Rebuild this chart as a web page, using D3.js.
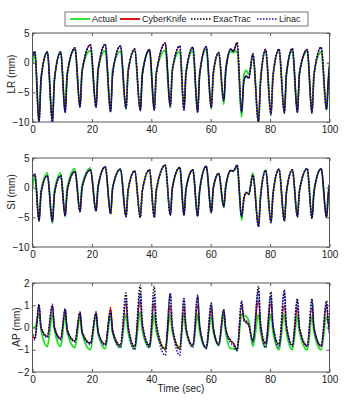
<!DOCTYPE html>
<html><head><meta charset="utf-8">
<script src="https://cdn.jsdelivr.net/npm/d3@7/dist/d3.min.js"></script>
<style>
body{margin:0;background:#fff;}
text{font-family:"Liberation Sans",Arial,sans-serif;fill:#222;}
</style></head>
<body><svg id="c" width="347" height="402"></svg>
<script>
// Shared time base (sec): peak, trough, knee per breathing cycle
const time = [0, 0.8, 2.2, 2.9,
 5.0, 6.7, 7.4,   9.5, 11.0, 11.7,   14.3, 16.0, 16.7,   19.5, 21.4, 22.1,
 24.5, 26.3, 27.0,   29.6, 31.5, 32.2,   34.4, 36.3, 37.0,   39.4, 41.0, 41.7,
 44.7, 46.4, 47.1,   49.6, 51.0, 51.7,   54.0, 55.6, 56.3,   58.5, 60.2, 60.9,
 62.7, 64.4, 65.1,   66.8, 67.6,   68.9, 70.4, 71.2, 72.0, 72.8,
 74.2, 76.1, 76.8,   78.5, 80.3, 81.0,   83.0, 84.8, 85.5,   87.5, 89.2, 89.9,
 92.5, 94.1, 94.8,   97.2, 99.0, 99.6,   100];

// LR (mm)
const lrActual = [-0.3, 1.6, -10, -2.6,
 1.8, -10, -2.8,   1.8, -8.4, -1.8,   2.2, -7.5, -1.2,   2.0, -7.4, -0.9,
 2.0, -8.3, -1.2,   1.9, -7.9, -1.2,   2.0, -8.1, -1.6,   2.0, -7.9, -1.5,
 2.1, -7.6, -1.0,   1.9, -7.9, -1.4,   2.0, -8.2, -1.6,   2.2, -7.8, -1.5,
 1.6, -7.0, -1.0,   1.9, 1.7,   2.0, -9.2, -2.0, -1.3, -2.0,
 1.2, -10, -3.0,   2.0, -8.8, -2.0,   2.0, -8.5, -1.8,   2.0, -8.3, -1.6,
 1.9, -8.5, -1.8,   1.8, -8.0, -3.0,   0.0];
const lrCyberKnife = [1.0, 1.8, -10, -2.6,
 1.8, -10, -2.8,   1.8, -8.4, -2.0,   2.5, -7.5, -1.5,   3.0, -7.5, -1.3,
 3.1, -8.3, -1.8,   2.8, -7.6, -1.6,   2.3, -8.1, -2.0,   2.2, -7.9, -1.9,
 3.3, -7.4, -1.3,   2.8, -8.0, -1.8,   2.6, -8.4, -2.0,   2.7, -7.6, -1.8,
 1.7, -6.4, -1.2,   2.3, 1.9,   3.4, -8.3, -3.0, -2.2, -2.6,
 1.5, -10, -3.0,   2.2, -8.7, -2.2,   2.3, -8.5, -2.0,   2.4, -8.4, -1.8,
 2.2, -8.5, -2.0,   2.6, -7.8, -3.0,   -0.5];
const lrExacTrac = [1.1, 1.9, -10, -2.6,
 1.8, -10, -2.8,   1.8, -8.3, -2.0,   2.5, -7.4, -1.5,   3.0, -7.5, -1.3,
 3.1, -8.2, -1.8,   2.8, -7.6, -1.6,   2.3, -8.0, -2.0,   2.2, -7.9, -1.9,
 3.3, -7.3, -1.3,   2.8, -7.9, -1.8,   2.6, -8.3, -2.0,   2.7, -7.5, -1.8,
 1.7, -6.3, -1.2,   2.3, 1.9,   3.4, -8.2, -3.0, -2.3, -2.6,
 1.5, -10, -3.0,   2.2, -8.6, -2.2,   2.3, -8.4, -2.0,   2.4, -8.3, -1.8,
 2.2, -8.4, -2.0,   2.6, -7.8, -3.0,   -0.5];
const lrLinac = [1.0, 1.8, -10, -2.7,
 1.8, -10, -2.8,   1.8, -8.4, -2.0,   2.4, -7.5, -1.5,   3.0, -7.5, -1.3,
 3.0, -8.3, -1.8,   2.8, -7.7, -1.6,   2.3, -8.1, -2.0,   2.2, -8.0, -1.9,
 3.2, -7.4, -1.3,   2.8, -8.0, -1.8,   2.6, -8.4, -2.0,   2.7, -7.6, -1.8,
 1.7, -6.4, -1.2,   2.3, 1.9,   3.3, -8.3, -3.0, -2.2, -2.7,
 1.5, -10, -3.0,   2.2, -8.8, -2.2,   2.3, -8.5, -2.0,   2.4, -8.4, -1.8,
 2.2, -8.5, -2.0,   2.6, -7.9, -3.0,   -0.6];

// SI (mm)
const siActual = [0.0, 2.0, -5.6, -0.6,
 2.5, -6.0, -0.6,   2.5, -4.9, 0.0,   3.2, -4.1, 0.4,   3.3, -4.0, 0.3,
 3.5, -4.4, 0.0,   3.1, -4.9, -0.4,   2.8, -5.0, -0.5,   3.0, -5.0, -0.4,
 3.7, -4.6, 0.0,   3.4, -4.6, -0.2,   3.0, -4.8, -0.4,   3.6, -4.2, 0.0,
 2.4, -3.3, 0.3,   2.9, 2.8,   3.6, -5.5, -1.7, -0.8, -1.1,
 2.5, -6.5, -1.4,   3.0, -5.8, -1.0,   3.1, -5.6, -0.8,   3.0, -4.9, -0.5,
 3.2, -5.1, -0.6,   3.1, -5.0, -1.0,   0.5];
const siCyberKnife = [1.8, 2.3, -5.6, -0.8,
 2.0, -5.7, -1.0,   2.0, -4.7, -0.5,   2.7, -4.0, 0.0,   3.0, -3.9, 0.2,
 3.5, -4.4, 0.0,   3.1, -4.9, -0.4,   2.8, -5.0, -0.5,   3.0, -5.0, -0.4,
 3.8, -4.6, 0.0,   3.4, -4.6, -0.2,   3.0, -4.8, -0.4,   3.6, -4.2, 0.0,
 2.4, -3.2, 0.3,   2.9, 2.8,   3.8, -4.9, -1.8, -0.8, -1.1,
 2.1, -6.6, -1.5,   2.9, -5.8, -1.0,   3.1, -5.6, -0.8,   3.0, -4.9, -0.5,
 3.2, -5.1, -0.6,   3.2, -5.0, -1.0,   0.5];
const siExacTrac = [1.9, 2.3, -5.5, -0.8,
 2.0, -5.7, -1.0,   2.0, -4.7, -0.5,   2.7, -4.0, 0.0,   3.0, -3.9, 0.2,
 3.5, -4.4, 0.0,   3.1, -4.8, -0.4,   2.8, -5.0, -0.5,   3.0, -5.0, -0.4,
 3.8, -4.7, 0.0,   3.4, -4.6, -0.2,   3.0, -4.8, -0.4,   3.6, -4.2, 0.0,
 2.4, -3.2, 0.3,   2.9, 2.8,   3.8, -4.8, -1.8, -0.8, -1.1,
 2.1, -6.5, -1.5,   2.9, -5.9, -1.0,   3.1, -5.6, -0.8,   3.0, -4.9, -0.5,
 3.2, -5.2, -0.6,   3.2, -5.0, -1.0,   0.5];
const siLinac = [1.8, 2.2, -5.6, -0.9,
 2.0, -5.7, -1.0,   2.0, -4.7, -0.5,   2.7, -4.0, 0.0,   3.0, -3.9, 0.2,
 3.5, -4.4, 0.0,   3.1, -4.9, -0.4,   2.8, -5.0, -0.5,   3.0, -5.0, -0.4,
 3.8, -4.6, 0.0,   3.4, -4.6, -0.2,   3.0, -4.8, -0.4,   3.6, -4.2, 0.0,
 2.4, -3.2, 0.3,   2.9, 2.8,   3.8, -4.9, -1.8, -0.9, -1.1,
 2.1, -6.6, -1.5,   2.9, -5.8, -1.0,   3.1, -5.6, -0.8,   3.0, -4.9, -0.5,
 3.2, -5.1, -0.6,   3.2, -5.0, -1.0,   0.5];

// AP (mm)
const apActual = [0.0, 0.0, 0.6, -0.1,
 -0.85, 0.6, -0.1,   -0.85, 0.6, -0.2,   -0.9, 0.5, -0.25,   -1.0, 0.55, -0.25,
 -0.95, 0.55, -0.25,   -0.9, 0.6, -0.2,   -0.95, 0.7, -0.15,   -0.9, 0.6, -0.2,
 -0.95, 0.6, -0.2,   -0.9, 0.6, -0.2,   -0.85, 0.6, -0.2,   -0.9, 0.5, -0.2,
 -0.8, 0.6, -0.2,   -0.95, -0.95,   -1.0, 0.6, 0.55, 0.5, 0.3,
 -0.85, 0.6, -0.2,   -0.9, 0.6, -0.2,   -1.0, 0.6, -0.2,   -1.0, 0.55, -0.2,
 -1.0, 0.5, -0.2,   -1.0, 0.5, 0.2,   0.3];
const apCyberKnife = [-0.35, -0.5, 1.0, 0.0,
 -0.4, 1.0, 0.0,   -0.5, 0.8, -0.1,   -0.6, 0.7, -0.2,   -0.7, 0.65, -0.2,
 -0.75, 0.92, -0.1,   -0.8, 1.1, 0.0,   -0.85, 1.2, 0.05,   -0.8, 1.1, 0.05,
 -0.95, 1.0, -0.05,   -0.95, 1.0, -0.05,   -0.8, 1.0, 0.0,   -0.95, 0.8, -0.05,
 -0.75, 0.8, -0.1,   -0.6, -0.7,   -1.0, 1.0, 0.35, 0.25, 0.1,
 -0.6, 1.2, 0.05,   -0.75, 1.1, 0.0,   -0.8, 1.0, 0.0,   -0.8, 0.9, -0.05,
 -0.85, 0.9, -0.05,   -0.85, 1.0, 0.2,   -0.2];
const apExacTrac = [-0.3, -0.45, 1.05, 0.0,
 -0.4, 1.05, 0.0,   -0.5, 0.85, -0.1,   -0.6, 0.7, -0.2,   -0.7, 0.7, -0.2,
 -0.75, 0.75, -0.2,   -0.8, 1.55, 0.1,   -0.85, 1.9, 0.2,   -0.8, 1.85, 0.2,
 -1.0, 1.5, 0.1,   -1.0, 1.3, 0.0,   -0.8, 1.45, 0.1,   -0.9, 1.1, 0.0,
 -0.75, 0.8, -0.1,   -0.6, -0.7,   -1.0, 1.2, 0.4, 0.3, 0.1,
 -0.6, 1.85, 0.2,   -0.7, 1.6, 0.1,   -0.75, 1.6, 0.1,   -0.75, 1.3, 0.0,
 -0.8, 1.3, 0.0,   -0.8, 1.2, 0.2,   -0.2];
const apLinac = [-0.5, -0.55, 0.95, -0.05,
 -0.45, 0.95, -0.05,   -0.55, 0.8, -0.15,   -0.65, 0.65, -0.25,   -0.75, 0.65, -0.25,
 -0.8, 0.7, -0.2,   -0.9, 1.3, 0.0,   -1.0, 1.55, 0.1,   -0.9, 1.45, 0.1,
 -1.25, 1.55, 0.0,   -1.25, 1.3, -0.05,   -0.9, 1.4, 0.05,   -0.95, 1.05, -0.05,
 -0.8, 0.8, -0.1,   -0.7, -0.8,   -1.05, 1.1, 0.3, 0.2, 0.15,
 -0.65, 1.65, 0.1,   -0.9, 1.4, 0.05,   -0.9, 1.7, 0.1,   -0.85, 1.2, -0.05,
 -0.85, 1.2, -0.05,   -0.85, 1.1, 0.2,   -0.3];

const xTicks = [0, 20, 40, 60, 80, 100];
const lrTicks = [-10, -5, 0, 5];
const siTicks = [-10, -5, 0, 5];
const apTicks = [-2, -1, 0, 1, 2];
const seriesNames = ["Actual", "CyberKnife", "ExacTrac", "Linac"];

const styles = {
  Actual:     {color: "#22e022", width: 1.9, dash: null, offset: 0},
  CyberKnife: {color: "#d40000", width: 1.1, dash: null, offset: 0},
  ExacTrac:   {color: "#000000", width: 1.5, dash: "1.5,1.5", offset: 0},
  Linac:      {color: "#1010b8", width: 1.5, dash: "1.5,1.5", offset: 1.5}
};

const panels = [
  {label: "LR (mm)", top: 33, domain: [-10, 5], ticks: lrTicks, labelX: 11.5, labelY: 74,
   data: {Actual: lrActual, CyberKnife: lrCyberKnife, ExacTrac: lrExacTrac, Linac: lrLinac}},
  {label: "SI (mm)", top: 158, domain: [-10, 5], ticks: siTicks, labelX: 11.5, labelY: 192,
   data: {Actual: siActual, CyberKnife: siCyberKnife, ExacTrac: siExacTrac, Linac: siLinac}},
  {label: "AP (mm)", top: 283, domain: [-2, 2], ticks: apTicks, labelX: 16.5, labelY: 327,
   data: {Actual: apActual, CyberKnife: apCyberKnife, ExacTrac: apExacTrac, Linac: apLinac}}
];

const svg = d3.select("#c");
const left = 32.5, right = 329.5, ph = 89;
const x = d3.scaleLinear().domain([0, 100]).range([left, right]);

panels.forEach((p, pi) => {
  const y = d3.scaleLinear().domain(p.domain).range([p.top + ph, p.top]);
  const g = svg.append("g");
  const clipId = "clip" + pi;
  svg.append("clipPath").attr("id", clipId).append("rect")
    .attr("x", left).attr("y", p.top).attr("width", right - left).attr("height", ph);

  const line = d3.line().x(d => x(d[0])).y(d => y(d[1])).curve(d3.curveMonotoneX);
  const lg = g.append("g").attr("clip-path", `url(#${clipId})`);
  seriesNames.forEach(name => {
    const s = styles[name];
    lg.append("path")
      .attr("d", line(d3.zip(time, p.data[name])))
      .attr("fill", "none").attr("stroke", s.color).attr("stroke-width", s.width)
      .attr("stroke-linejoin", "round")
      .attr("stroke-dasharray", s.dash).attr("stroke-dashoffset", s.offset);
  });

  const fmt = d3.format("d");
  g.append("g").attr("transform", `translate(0,${p.top + ph})`)
    .call(d3.axisBottom(x).tickValues(xTicks).tickSizeInner(-3).tickSizeOuter(0).tickPadding(4).tickFormat(fmt));
  g.append("g").attr("transform", `translate(0,${p.top})`)
    .call(d3.axisTop(x).tickValues(xTicks).tickSizeInner(-3).tickSizeOuter(0).tickFormat(""));
  g.append("g").attr("transform", `translate(${left},0)`)
    .call(d3.axisLeft(y).tickValues(p.ticks).tickSizeInner(-3).tickSizeOuter(0).tickPadding(3).tickFormat(fmt));
  g.append("g").attr("transform", `translate(${right},0)`)
    .call(d3.axisRight(y).tickValues(p.ticks).tickSizeInner(-3).tickSizeOuter(0).tickFormat(""));
  g.selectAll(".domain").remove();
  g.selectAll(".tick line").attr("stroke", "#555");
  g.selectAll(".tick text").attr("font-size", 10).attr("font-family", "'Liberation Sans',Arial,sans-serif").attr("fill", "#222");

  g.append("rect").attr("x", left).attr("y", p.top).attr("width", right - left).attr("height", ph)
    .attr("fill", "none").attr("stroke", "#555").attr("stroke-width", 1);

  g.append("text").attr("transform", `translate(${p.labelX},${p.labelY}) rotate(-90)`)
    .attr("text-anchor", "middle").attr("dy", "0.35em").attr("font-size", 10).text(p.label);
});

svg.append("text").attr("x", (left + right) / 2).attr("y", 392)
  .attr("text-anchor", "middle").attr("font-size", 10).text("Time (sec)");

// legend
const leg = svg.append("g");
leg.append("rect").attr("x", 65).attr("y", 12).attr("width", 243).attr("height", 14)
  .attr("fill", "#fff").attr("stroke", "#555").attr("stroke-width", 0.8);
const legX = [70, 120, 191, 257];
seriesNames.forEach((name, i) => {
  const s = styles[name];
  leg.append("line").attr("x1", legX[i]).attr("x2", legX[i] + 20).attr("y1", 19).attr("y2", 19)
    .attr("stroke", s.color).attr("stroke-width", name === "Actual" || name === "CyberKnife" ? 1.8 : 1.3)
    .attr("stroke-dasharray", s.dash);
  leg.append("text").attr("x", legX[i] + 22).attr("y", 19).attr("dy", "0.35em")
    .attr("font-size", 9).text(name);
});
</script></body></html>
